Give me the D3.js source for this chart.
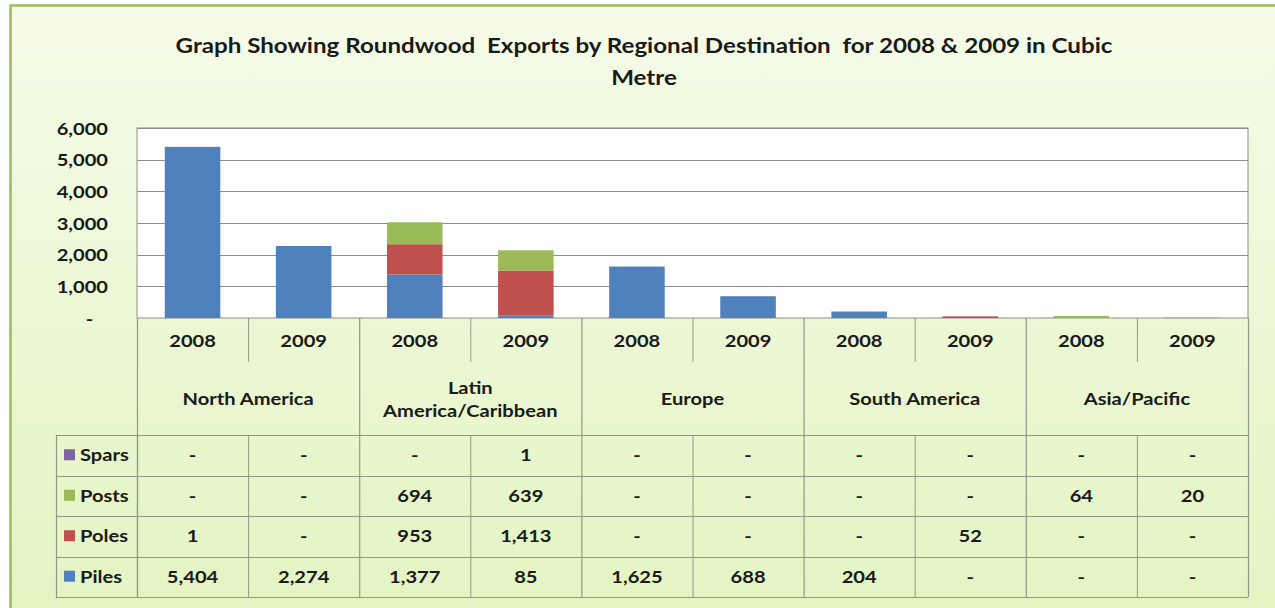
<!DOCTYPE html>
<html>
<head>
<meta charset="utf-8">
<script src="https://cdn.jsdelivr.net/npm/d3@7"></script>
<style>
  html, body { margin: 0; padding: 0; background: #ffffff; }
  svg { display: block; }
  text { font-family: Lato, "Open Sans", sans-serif; font-weight: bold; fill: #1a1a1a; }
</style>
</head>
<body>
<svg id="chart" width="1275" height="608"></svg>
<script>
// ---- data ----
const regions = ["North America", "Latin America/Caribbean", "Europe", "South America", "Asia/Pacific"];
const regionLines = [["North America"], ["Latin", "America/Caribbean"], ["Europe"], ["South America"], ["Asia/Pacific"]];
const years = ["2008", "2009"];
const seriesNames = ["Piles", "Poles", "Posts", "Spars"];
const piles = [5404, 2274, 1377, 85, 1625, 688, 204, 0, 0, 0];
const poles = [1, 0, 953, 1413, 0, 0, 0, 52, 0, 0];
const posts = [0, 0, 694, 639, 0, 0, 0, 0, 64, 20];
const spars = [0, 0, 0, 1, 0, 0, 0, 0, 0, 0];
const yTicks = [0, 1000, 2000, 3000, 4000, 5000, 6000];
const titleLines = ["Graph Showing Roundwood  Exports by Regional Destination  for 2008 & 2009 in Cubic", "Metre"];

const colors = { Piles: "#4F81BD", Poles: "#C0504D", Posts: "#9BBB59", Spars: "#8064A2" };
const seriesValues = { Piles: piles, Poles: poles, Posts: posts, Spars: spars };

// ---- layout ----
const svg = d3.select("#chart");
const W = 1275, H = 608;
const plot = { left: 137, right: 1248, top: 128, bottom: 318 };
const yearRowBottom = 362, regionRowBottom = 435;
const rowH = 40.5;
const tableLeft = 56;
const SX = 1.15;      // horizontal stretch of the reference's lettering
const FS = 17.5;

const defs = svg.append("defs");
const grad = defs.append("linearGradient").attr("id", "bg").attr("x1", 0).attr("y1", 0).attr("x2", 0).attr("y2", 1);
grad.append("stop").attr("offset", "0%").attr("stop-color", "#f5fbe8");
grad.append("stop").attr("offset", "100%").attr("stop-color", "#e3f4c2");

svg.append("rect").attr("x", 0).attr("y", 0).attr("width", W).attr("height", H).attr("fill", "#ffffff");
svg.append("rect").attr("x", 10.5).attr("y", 5.5).attr("width", W).attr("height", H + 10)
  .attr("fill", "url(#bg)").attr("stroke", "#9BBB59").attr("stroke-width", 2.5);

// helper: place a text at (px,py) with horizontal stretch
function put(sel, px, py) {
  return sel.attr("transform", function (d, i) {
    const X = typeof px === "function" ? px(d, i) : px;
    const Y = typeof py === "function" ? py(d, i) : py;
    return `translate(${X},${Y}) scale(${SX},1)`;
  });
}

// title
put(svg.append("g").selectAll("text").data(titleLines).join("text"), 644, (d, i) => 53 + i * 32)
  .attr("text-anchor", "middle").attr("font-size", 21)
  .attr("xml:space", "preserve")
  .text(d => d);

// scales
const cats = [];
regions.forEach(r => years.forEach(y => cats.push(r + "|" + y)));
const x = d3.scaleBand().domain(cats).range([plot.left, plot.right]).paddingInner(0).paddingOuter(0);
const y = d3.scaleLinear().domain([0, 6000]).range([plot.bottom, plot.top]);

// plot area
svg.append("rect").attr("x", plot.left).attr("y", plot.top).attr("width", plot.right - plot.left)
  .attr("height", plot.bottom - plot.top).attr("fill", "#ffffff").attr("stroke", "#8c8c8c").attr("stroke-width", 1);

// gridlines
svg.append("g").selectAll("line").data(yTicks.filter(t => t > 0)).join("line")
  .attr("x1", plot.left).attr("x2", plot.right)
  .attr("y1", d => Math.round(y(d)) + 0.5).attr("y2", d => Math.round(y(d)) + 0.5)
  .attr("stroke", "#8c8c8c").attr("stroke-width", 1.2);

// y axis
const yAxis = d3.axisLeft(y).tickValues(yTicks).tickSize(0).tickPadding(0)
  .tickFormat(d => d === 0 ? "-   " : d3.format(",")(d));
const ya = svg.append("g").attr("transform", `translate(${108},0)`).call(yAxis);
ya.select(".domain").remove();
ya.selectAll("text").attr("font-size", FS).attr("font-family", "Lato, sans-serif").attr("font-weight", "bold")
  .attr("fill", "#1a1a1a").attr("xml:space", "preserve").attr("dy", "0.35em")
  .attr("transform", `scale(${SX},1)`);

// stacked bars
const table = cats.map((c, i) => ({ cat: c, Piles: piles[i], Poles: poles[i], Posts: posts[i], Spars: spars[i] }));
const stack = d3.stack().keys(seriesNames)(table);
const bw = x.bandwidth() * 0.5;
svg.append("g").selectAll("g").data(stack).join("g").attr("fill", d => colors[d.key])
  .selectAll("rect").data(d => d).join("rect")
  .attr("x", d => x(d.data.cat) + (x.bandwidth() - bw) / 2)
  .attr("width", bw)
  .attr("y", d => y(d[1]))
  .attr("height", d => Math.max(0, y(d[0]) - y(d[1])));

// ---- data table ----
const tg = svg.append("g");
const lineColor = "#8f9a86";
const bottomY = regionRowBottom + rowH * 4;

// year labels
put(tg.selectAll("text.year").data(cats).join("text").attr("class", "year"),
    d => x(d) + x.bandwidth() / 2, 347)
  .attr("text-anchor", "middle").attr("font-size", FS).text(d => d.split("|")[1]);

// year separators (short)
tg.selectAll("line.ysep").data(cats.filter((d, i) => i % 2 === 1)).join("line").attr("class", "ysep")
  .attr("x1", d => x(d) + 0.5).attr("x2", d => x(d) + 0.5)
  .attr("y1", plot.bottom).attr("y2", yearRowBottom).attr("stroke", lineColor).attr("stroke-width", 1);

// region separators (full height of header)
const regionEdges = regions.map((r, i) => x(r + "|2008")).concat([plot.right]);
tg.selectAll("line.rsep").data(regionEdges).join("line").attr("class", "rsep")
  .attr("x1", d => d + 0.5).attr("x2", d => d + 0.5)
  .attr("y1", plot.bottom).attr("y2", bottomY).attr("stroke", lineColor).attr("stroke-width", 1.2);

// region labels
regions.forEach((r, i) => {
  const cx = x(r + "|2008") + x.bandwidth();
  const lines = regionLines[i];
  const cy = 405 - (lines.length - 1) * 11;
  put(tg.append("text"), cx, cy).attr("text-anchor", "middle").attr("font-size", FS)
    .selectAll("tspan").data(lines).join("tspan").attr("x", 0).attr("dy", (d, j) => j === 0 ? 0 : 23).text(d => d);
});

// data rows (Spars, Posts, Poles, Piles top to bottom)
const rowOrder = ["Spars", "Posts", "Poles", "Piles"];
const rowTop = k => regionRowBottom + rowH * k;
tg.selectAll("line.hrow").data(d3.range(5)).join("line").attr("class", "hrow")
  .attr("x1", tableLeft).attr("x2", plot.right)
  .attr("y1", k => Math.round(rowTop(k)) + 0.5).attr("y2", k => Math.round(rowTop(k)) + 0.5)
  .attr("stroke", lineColor).attr("stroke-width", 1.2);
tg.append("line").attr("x1", tableLeft + 0.5).attr("x2", tableLeft + 0.5).attr("y1", regionRowBottom).attr("y2", bottomY)
  .attr("stroke", lineColor).attr("stroke-width", 1.2);
tg.append("line").attr("x1", plot.left + 0.5).attr("x2", plot.left + 0.5).attr("y1", regionRowBottom).attr("y2", bottomY)
  .attr("stroke", lineColor).attr("stroke-width", 1.2);
tg.selectAll("line.dsep").data(cats.filter((d, i) => i % 2 === 1)).join("line").attr("class", "dsep")
  .attr("x1", d => x(d) + 0.5).attr("x2", d => x(d) + 0.5)
  .attr("y1", regionRowBottom).attr("y2", bottomY).attr("stroke", lineColor).attr("stroke-width", 1);

const fmt = v => v === 0 ? "-" : d3.format(",")(v);
rowOrder.forEach((s, k) => {
  const cy = rowTop(k) + rowH / 2;
  tg.append("rect").attr("x", 64).attr("y", cy - 6).attr("width", 11).attr("height", 11).attr("fill", colors[s]);
  put(tg.append("text"), 80, cy).attr("dy", "0.35em").attr("font-size", FS).text(s);
  put(tg.selectAll(null).data(seriesValues[s]).join("text"),
      (d, i) => x(cats[i]) + x.bandwidth() / 2, cy)
    .attr("dy", "0.35em")
    .attr("text-anchor", "middle").attr("font-size", FS)
    .text(d => fmt(d));
});
</script>
</body>
</html>
